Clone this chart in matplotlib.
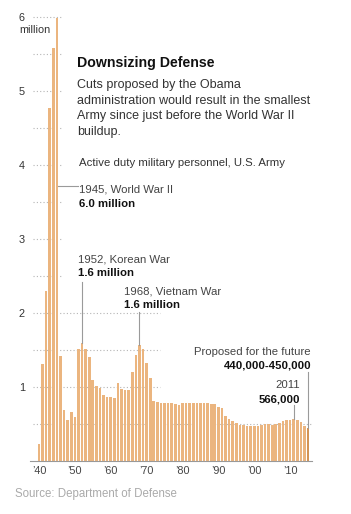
import matplotlib.pyplot as plt

# Active duty U.S. Army personnel, millions
years = list(range(1940, 2016))
personnel = [
    0.23, 1.31, 2.30, 4.77, 5.59, 5.99, 1.42, 0.69, 0.55, 0.66,   # 1940s
    0.59, 1.52, 1.59, 1.52, 1.40, 1.10, 1.02, 0.99, 0.89, 0.86,   # 1950s
    0.87, 0.85, 1.06, 0.97, 0.96, 0.96, 1.20, 1.44, 1.57, 1.51,   # 1960s
    1.32, 1.12, 0.81, 0.80, 0.78, 0.78, 0.78, 0.78, 0.77, 0.76,   # 1970s
    0.78, 0.78, 0.78, 0.78, 0.78, 0.78, 0.78, 0.78, 0.77, 0.77,   # 1980s
    0.73, 0.71, 0.61, 0.57, 0.54, 0.51, 0.49, 0.49, 0.48, 0.48,   # 1990s
    0.48, 0.48, 0.49, 0.50, 0.50, 0.49, 0.50, 0.52, 0.54, 0.55,   # 2000s
    0.56, 0.566, 0.55, 0.53, 0.48, 0.45,                          # 2010s
]
proposed_year = 2015

y_ticks = [1, 2, 3, 4, 5, 6]
y_tick_labels = ['1', '2', '3', '4', '5', '6']
x_ticks = [1940, 1950, 1960, 1970, 1980, 1990, 2000, 2010]
x_tick_labels = ['\u201940', '\u201950', '\u201960', '\u201970',
                 '\u201980', '\u201990', '\u201900', '\u201910']

# (year, value label text, bar value) for the annotated bars
ww2 = (1945, '1945, World War II', '6.0 million')
korea = (1952, '1952, Korean War', '1.6 million')
vietnam = (1968, '1968, Vietnam War', '1.6 million')
latest = (2011, '2011', '566,000')
future = (2015, 'Proposed for the future', '440,000-450,000')

W, H = 351, 514
plt.rcParams['font.family'] = ['Liberation Sans', 'DejaVu Sans']
fig = plt.figure(figsize=(W / 100, H / 100), dpi=100)
ax = fig.add_axes([30 / W, (H - 461) / H, (316 - 30) / W, (461 - 15.8) / H])

bar_col = '#ebb57f'
dark_col = '#d39456'
colors = [dark_col if y == proposed_year else bar_col for y in years]
ax.bar(years, personnel, width=0.74, color=colors, zorder=2)

ax.set_xlim(1937.5, 2017.2)
ax.set_ylim(0, 6.02)

# dotted gridlines, each only as long as in the original
grid_col = '#b5b5b5'
for lev in [0.5]:
    ax.hlines(lev, 1938.3, 2016.1, colors=grid_col, lw=0.8, linestyles=(0, (1, 2)), zorder=1)
for lev in [1.0, 1.5, 2.0]:
    ax.hlines(lev, 1938.3, 1973.7, colors=grid_col, lw=0.8, linestyles=(0, (1, 2)), zorder=1)
for lev in [2.5, 3.0, 3.5, 4.0, 4.5, 5.0, 5.5, 6.0]:
    ax.hlines(lev, 1938.3, 1946.4, colors=grid_col, lw=0.8, linestyles=(0, (1, 2)), zorder=1)

for s in ['top', 'right', 'left']:
    ax.spines[s].set_visible(False)
ax.spines['bottom'].set_color('#999999')
ax.spines['bottom'].set_linewidth(0.8)
ax.spines['bottom'].set_bounds(1937.6, 2016.1)

ax.set_yticks(y_ticks)
ax.set_yticklabels(y_tick_labels, fontsize=7.8, color='#333333', ha='left')
ax.set_xticks(x_ticks)
ax.set_xticklabels(x_tick_labels, fontsize=7.8, color='#444444')
ax.tick_params(axis='y', length=0, pad=8)
ax.tick_params(axis='x', length=0, pad=3.5)
fig.text(19 / W, 1 - 30 / H, 'million', fontsize=7.8, color='#333333', va='center', ha='left')


def ftext(x, y, s, **kw):
    kw.setdefault('va', 'center')
    return fig.text(x / W, 1 - y / H, s, **kw)


ftext(77, 62.5, 'Downsizing Defense', fontsize=10.2, fontweight='bold', color='#111111')
body = ['Cuts proposed by the Obama',
        'administration would result in the smallest',
        'Army since just before the World War II',
        'buildup.']
for i, line in enumerate(body):
    ftext(77, 85 + i * 15.6, line, fontsize=9.0, color='#333333')
ftext(79, 162.5, 'Active duty military personnel, U.S. Army', fontsize=8.2, color='#333333')

lab_kw = dict(fontsize=8.2, color='#444444')
val_kw = dict(fontsize=8.2, fontweight='bold', color='#111111')
line_kw = dict(color='#9a9a9a', lw=0.8, zorder=3)

ftext(79, 190, ww2[1], **lab_kw)
ftext(79, 204, ww2[2], **val_kw)
ax.plot([ww2[0] + 0.4, 1950.9], [3.72, 3.72], **line_kw)

ftext(78, 259, korea[1], **lab_kw)
ftext(78, 273, korea[2], **val_kw)
ax.plot([korea[0], korea[0]], [2.42, personnel[years.index(korea[0])]], **line_kw)

ftext(124, 291, vietnam[1], **lab_kw)
ftext(124, 305, vietnam[2], **val_kw)
ax.plot([vietnam[0], vietnam[0]], [2.02, personnel[years.index(vietnam[0])]], **line_kw)

ftext(311, 352, future[1], ha='right', **lab_kw)
ftext(311, 366, future[2], ha='right', **val_kw)
ax.plot([future[0], future[0]], [1.21, personnel[years.index(future[0])]], **line_kw)

ftext(300, 385, latest[1], ha='right', **lab_kw)
ftext(300, 399, latest[2], ha='right', **val_kw)
ax.plot([latest[0], latest[0]], [0.76, personnel[years.index(latest[0])]], **line_kw)

ftext(15, 494, 'Source: Department of Defense', fontsize=8.3, color='#aaaaaa')

fig.savefig('out.png', dpi=100)
